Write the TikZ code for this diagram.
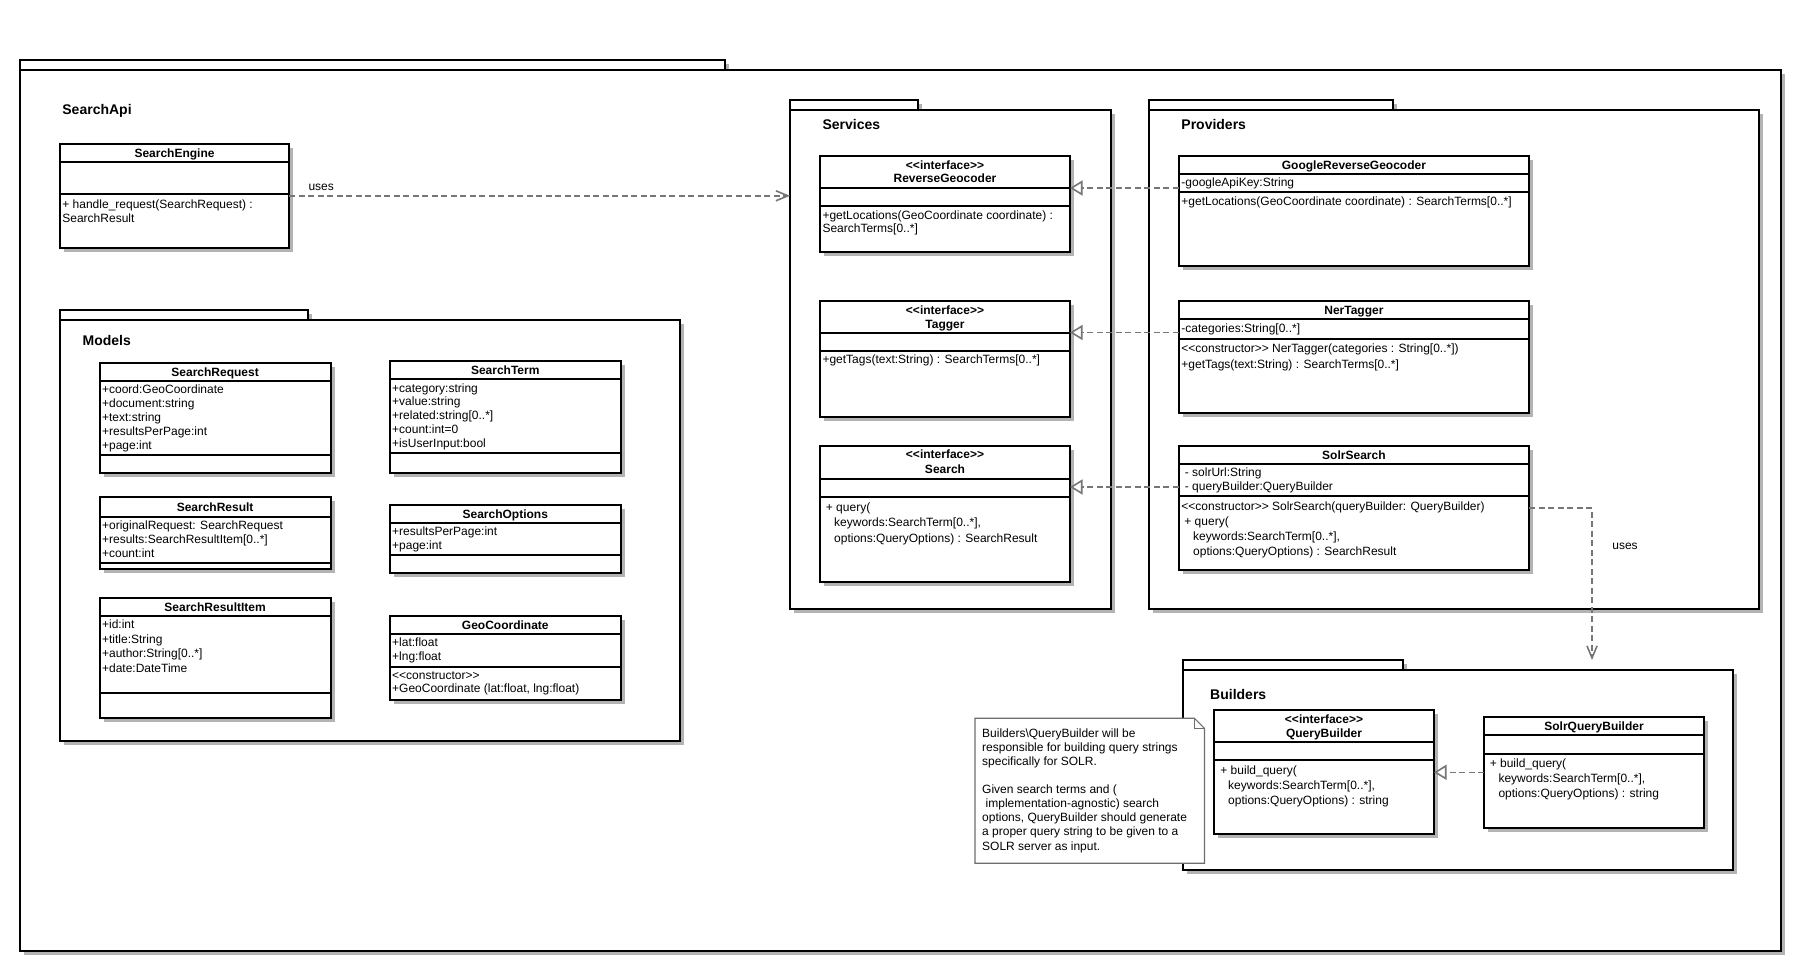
\documentclass[tikz,border=0pt]{standalone}
\usepackage{fontspec}
\newfontfamily\ls{Liberation Sans}
\usetikzlibrary{arrows.meta,shadows}
\definecolor{shd}{RGB}{179,179,179}
\definecolor{conn}{RGB}{118,118,118}
\definecolor{notec}{RGB}{110,110,110}
\newcommand\ltlt{<\kern0pt<}
\newcommand\gtgt{>\kern0pt>}
\tikzset{
  umlbox/.style={draw, line width=2pt, fill=white, anchor=north west, inner sep=0pt, outer sep=0pt,
    drop shadow={shadow xshift=4pt, shadow yshift=-4pt, fill=shd, opacity=1}},
  cline/.style={line width=2pt, black},
  umltxt/.style={anchor=base west, inner sep=0pt, font=\ls\fontsize{12}{14}\selectfont},
  umlnm/.style={anchor=base, inner sep=0pt, font=\ls\bfseries\fontsize{12}{14}\selectfont},
  pkl/.style={anchor=base west, inner sep=0pt, font=\ls\bfseries\fontsize{14}{16}\selectfont},
  uses/.style={draw=conn, line width=1.6pt, dash pattern=on 6pt off 3.5pt, -{Straight Barb[length=12pt,width=10pt]}},
  real/.style={draw=conn, line width=1.6pt, dash pattern=on 6pt off 3.5pt, -{Triangle[length=12.5pt,width=15pt,fill=white]}},
  notel/.style={draw=notec, line width=1.2pt, line join=miter},
}
\newcommand\umlclass[7]{%
  \node[umlbox, minimum width={#4-#2}, minimum height={#5-#3}] (#1) at (#2,#3) {};
  \draw[cline] (#1.west |- 0,#6) -- (#1.east |- 0,#6);
  \draw[cline] (#1.west |- 0,#7) -- (#1.east |- 0,#7);}
\newcommand\umlname[4]{\node[umlnm] (#1) at (#2.north |- 0,#3) {#4};}
\newcommand\umllines[5]{\foreach \umlt [count=\umlk] in {#5}{\node[umltxt] (#1\umlk) at (#2,{#3+(\umlk-1)*#4}) {\umlt};}}
\begin{document}
\begin{tikzpicture}[x=1pt,y=-1pt]
\useasboundingbox (0,0) rectangle (1801,970);
% outer package
\node[umlbox, minimum width=704.8, minimum height=10.3] (apitab) at (20,59.7) {};
\node[umlbox, minimum width=1760.5, minimum height=880.5] (api) at (20,70) {};
\node[pkl] (apil) at (62.2,114.3) {SearchApi};

% SearchEngine
\umlclass{se}{59.7}{143.6}{289.4}{248}{162}{194}
\umlname{sen}{se}{157.3}{SearchEngine}
\umllines{sem}{62.2}{208}{14.5}{{+ handle\_request(SearchRequest) :},{SearchResult}}

% Models
\node[umlbox, minimum width=248.1, minimum height=10] (modtab) at (59.7,310) {};
\node[umlbox, minimum width=620.3, minimum height=420.5] (mod) at (59.7,320) {};
\node[pkl] (modl) at (82.4,345) {Models};

\umlclass{sreq}{99.8}{362.7}{330.5}{473}{380.7}{454.7}
\umlname{sreqn}{sreq}{376}{SearchRequest}
\umllines{sreqa}{101.9}{393.7}{14}{{+coord:GeoCoordinate},{+document:string},{+text:string},{+resultsPerPage:int},{+page:int}}

\umlclass{sterm}{390}{360.7}{620.5}{473}{379}{453}
\umlname{stermn}{sterm}{374.4}{SearchTerm}
\umllines{sterma}{392}{392}{13.9}{{+category:string},{+value:string},{+related:string[0..*]},{+count:int=0},{+isUserInput:bool}}

\umlclass{sres}{99.8}{496.7}{330.5}{569}{516.7}{562.7}
\umlname{sresn}{sres}{511}{SearchResult}
\umllines{sresa}{101.9}{529.7}{14}{{+originalRequest: SearchRequest},{+results:SearchResultItem[0..*]},{+count:int}}

\umlclass{sopt}{390}{505}{620.5}{573.3}{522.7}{555.3}
\umlname{soptn}{sopt}{518.4}{SearchOptions}
\umllines{sopta}{392}{535.7}{14}{{+resultsPerPage:int},{+page:int}}

\umlclass{sri}{99.8}{598.3}{330.5}{718.3}{616}{693.3}
\umlname{srin}{sri}{611.5}{SearchResultItem}
\umllines{sria}{101.9}{628.3}{14.7}{{+id:int},{+title:String},{+author:String[0..*]},{+date:DateTime}}

\umlclass{geo}{390}{616}{620.5}{700}{634.3}{666.7}
\umlname{geon}{geo}{629.5}{GeoCoordinate}
\umllines{geoa}{392}{646.7}{14}{{+lat:float},{+lng:float}}
\umllines{geom}{392}{679}{13.7}{{\ltlt constructor\gtgt},{+GeoCoordinate (lat:float, lng:float)}}

% Services
\node[umlbox, minimum width=128, minimum height=10] (svctab) at (790,100) {};
\node[umlbox, minimum width=320.7, minimum height=499] (svc) at (790,110) {};
\node[pkl] (svcl) at (822.3,129) {Services};

\umlclass{rg}{820}{156}{1070}{252}{188.3}{206}
\umlname{rgs}{rg}{169.5}{\ltlt interface\gtgt}
\umlname{rgn}{rg}{182.8}{ReverseGeocoder}
\umllines{rgm}{822.3}{219}{13.3}{{+getLocations(GeoCoordinate coordinate) :},{SearchTerms[0..*]}}

\umlclass{tg}{820}{300.7}{1070}{417}{332.7}{351.3}
\umlname{tgs}{tg}{314}{\ltlt interface\gtgt}
\umlname{tgn}{tg}{328.3}{Tagger}
\umllines{tgm}{822.3}{363.3}{14}{{+getTags(text:String) : SearchTerms[0..*]}}

\umlclass{srch}{820}{446}{1070}{581.7}{479.3}{497.3}
\umlname{srchs}{srch}{458.8}{\ltlt interface\gtgt}
\umlname{srchn}{srch}{473.8}{Search}
\umllines{srchm}{822.3}{511.3}{15.5}{{\hspace*{3.4pt}+ query(},{\hspace*{11.7pt}keywords:SearchTerm[0..*],},{\hspace*{11.7pt}options:QueryOptions) : SearchResult}}

% Providers
\node[umlbox, minimum width=244, minimum height=10] (provtab) at (1149,100) {};
\node[umlbox, minimum width=610, minimum height=499] (prov) at (1149,110) {};
\node[pkl] (provl) at (1181.2,129) {Providers};

\umlclass{grg}{1178.8}{156}{1529}{266}{174}{192}
\umlname{grgn}{grg}{169.5}{GoogleReverseGeocoder}
\umllines{grga}{1181.2}{186.7}{14}{{-googleApiKey:String}}
\umllines{grgm}{1181.2}{205.7}{14}{{+getLocations(GeoCoordinate coordinate) : SearchTerms[0..*]}}

\umlclass{ner}{1178.8}{300.7}{1529}{412.7}{319}{338.7}
\umlname{nern}{ner}{314.5}{NerTagger}
\umllines{nera}{1181.2}{332.7}{14}{{-categories:String[0..*]}}
\umllines{nerm}{1181.2}{352.7}{15.3}{{\ltlt constructor\gtgt{} NerTagger(categories : String[0..*])},{+getTags(text:String) : SearchTerms[0..*]}}

\umlclass{ss}{1178.8}{446}{1529}{570}{463.7}{496.3}
\umlname{ssn}{ss}{459.5}{SolrSearch}
\umllines{ssa}{1181.2}{476.7}{14}{{\hspace*{3.5pt}- solrUrl:String},{\hspace*{3.5pt}- queryBuilder:QueryBuilder}}
\umllines{ssm}{1181.2}{510}{15.2}{{\ltlt constructor\gtgt{} SolrSearch(queryBuilder: QueryBuilder)},{\hspace*{3pt}+ query(},{\hspace*{11.8pt}keywords:SearchTerm[0..*],},{\hspace*{11.8pt}options:QueryOptions) : SearchResult}}

% Builders
\node[umlbox, minimum width=220, minimum height=10] (bldtab) at (1183,660) {};
\node[umlbox, minimum width=550, minimum height=200] (bld) at (1183,670) {};
\node[pkl] (bldl) at (1210,699) {Builders};

\umlclass{qb}{1214}{710.3}{1434}{834.3}{742}{760.3}
\umlname{qbs}{qb}{723.5}{\ltlt interface\gtgt}
\umlname{qbn}{qb}{737.2}{QueryBuilder}
\umllines{qbm}{1216.3}{774}{15.3}{{\hspace*{3.9pt}+ build\_query(},{\hspace*{11.7pt}keywords:SearchTerm[0..*],},{\hspace*{11.7pt}options:QueryOptions) : string}}

\umlclass{sqb}{1484}{717.3}{1704}{827.7}{735.3}{753.7}
\umlname{sqbn}{sqb}{730.5}{SolrQueryBuilder}
\umllines{sqbm}{1486.3}{767.3}{15.3}{{\hspace*{3.3pt}+ build\_query(},{\hspace*{12pt}keywords:SearchTerm[0..*],},{\hspace*{12pt}options:QueryOptions) : string}}

% Note
\node[anchor=north west, minimum width=229.4, minimum height=145, inner sep=0pt, outer sep=0pt, fill=white] (note) at (975,718.3) {};
\draw[notel] (note.north west) -- ([xshift=-10pt]note.north east) -- ([yshift=-10pt]note.north east) -- (note.south east) -- (note.south west) -- cycle;
\draw[notel] ([xshift=-10pt]note.north east) |- ([yshift=-10pt]note.north east);
\umllines{nta}{982}{737.3}{14}{{Builders\textbackslash QueryBuilder will be},{responsible for building query strings},{specifically for SOLR.}}
\umllines{ntb}{982}{793.3}{14.2}{{Given search terms and (},{\hspace*{3.5pt}implementation-agnostic) search},{options, QueryBuilder should generate},{a proper query string to be given to a},{SOLR server as input.}}

% Connectors
\draw[uses] (se.east) -- (se.east -| svc.west);
\node[umltxt, anchor=base] (uses1) at (321.2,190.7) {uses};
\draw[real] (grg.west |- 0,188) -- (rg.east |- 0,188);
\draw[real] (ner.west |- 0,332.5) -- (tg.east |- 0,332.5);
\draw[real] (ss.west |- 0,487) -- (srch.east |- 0,487);
\draw[real] (sqb.west |- 0,772.3) -- (qb.east |- 0,772.3);
\draw[uses] (ss.east |- 0,508) -| (1592,0 |- bldtab.north);
\node[umltxt, anchor=base] (uses2) at (1625,549.7) {uses};
\end{tikzpicture}
\end{document}
